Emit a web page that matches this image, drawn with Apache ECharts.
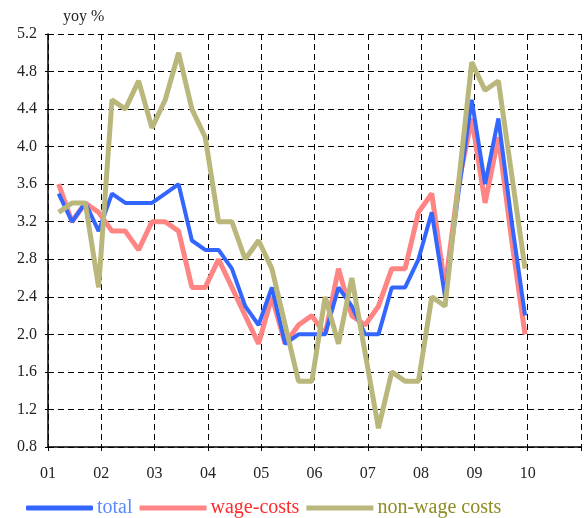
<!DOCTYPE html>
<html>
<head>
<meta charset="utf-8">
<script src="https://cdn.jsdelivr.net/npm/echarts@6/dist/echarts.min.js"></script>
<style>
html, body { margin: 0; padding: 0; background: #fff; }
#chart { width: 584px; height: 518px; }
</style>
</head>
<body>
<div id="chart"></div>
<script>
// quarters 2001Q1 .. 2009Q4
var quarters = [
	'01Q1', '01Q2', '01Q3', '01Q4', '02Q1', '02Q2', '02Q3', '02Q4',
	'03Q1', '03Q2', '03Q3', '03Q4', '04Q1', '04Q2', '04Q3', '04Q4',
	'05Q1', '05Q2', '05Q3', '05Q4', '06Q1', '06Q2', '06Q3', '06Q4',
	'07Q1', '07Q2', '07Q3', '07Q4', '08Q1', '08Q2', '08Q3', '08Q4',
	'09Q1', '09Q2', '09Q3', '09Q4'
];
var total = [
	3.5, 3.2, 3.4, 3.1, 3.5, 3.4, 3.4, 3.4, 3.5, 3.6, 3.0, 2.9,
	2.9, 2.7, 2.3, 2.1, 2.5, 1.9, 2.0, 2.0, 2.0, 2.5, 2.3, 2.0,
	2.0, 2.5, 2.5, 2.8, 3.3, 2.4, 3.5, 4.5, 3.6, 4.3, 3.2, 2.2
];
var wageCosts = [
	3.6, 3.2, 3.4, 3.3, 3.1, 3.1, 2.9, 3.2, 3.2, 3.1, 2.5, 2.5,
	2.8, 2.5, 2.2, 1.9, 2.4, 1.9, 2.1, 2.2, 2.0, 2.7, 2.2, 2.1,
	2.3, 2.7, 2.7, 3.3, 3.5, 2.5, 3.6, 4.3, 3.4, 4.1, 3.0, 2.0
];
var nonWageCosts = [
	3.3, 3.4, 3.4, 2.5, 4.5, 4.4, 4.7, 4.2, 4.5, 5.0, 4.4, 4.1,
	3.2, 3.2, 2.8, 3.0, 2.7, 2.1, 1.5, 1.5, 2.4, 1.9, 2.6, 1.8,
	1.0, 1.6, 1.5, 1.5, 2.4, 2.3, 3.6, 4.9, 4.6, 4.7, 3.7, 2.7
];
var seriesNames = ['total', 'wage-costs', 'non-wage costs'];
var lineColors = ['#3366ff', '#ff8585', '#bab77c'];
var textColors = ['#5b8aff', '#ff2a2a', '#8f8c22'];

//季度转为坐标位置
function toPoints(values) {
	var pts = [];
	for (var i = 0; i < quarters.length; i++) {
		var yr = 2000 + parseInt(quarters[i].substr(0, 2), 10);
		var q = parseInt(quarters[i].substr(3, 1), 10);
		pts.push([yr + (q - 0.2) / 4, values[i]]);
	}
	return pts;
}

var fontFam = '"Liberation Serif", "DejaVu Serif", serif';
var dashed = { show: true, lineStyle: { color: '#000', type: [6, 4], width: 1 } };

var option = {
	animation: false,
	backgroundColor: '#fff',
	textStyle: { fontFamily: fontFam },
	title: {
		text: 'yoy %',
		left: 58,
		top: 4,
		textStyle: { fontFamily: fontFam, fontSize: 16, fontWeight: 'normal', color: '#222' }
	},
	grid: { left: 48, top: 34, right: 3, bottom: 71 },
	legend: {
		left: 21,
		top: 493,
		itemWidth: 67,
		itemHeight: 5,
		itemGap: 7,
		data: seriesNames.map(function(n, k) {
			return {
				name: n,
				icon: k == 0 ? 'roundRect' : 'rect',
				itemStyle: { color: lineColors[k] },
				textStyle: { color: textColors[k] }
			};
		}),
		textStyle: { fontFamily: fontFam, fontSize: 20, padding: [0, 0, 0, -1] }
	},
	xAxis: {
		type: 'value',
		min: 2001,
		max: 2011,
		interval: 1,
		axisLine: { show: true, onZero: false, lineStyle: { color: '#000', width: 1.5 } },
		axisTick: { show: true, length: 4, lineStyle: { color: '#000' } },
		axisLabel: {
			margin: 19,
			fontSize: 16,
			color: '#222',
			fontFamily: fontFam,
			formatter: function(v) {
				if (v >= 2011) return '';
				return String(v).substr(2, 2);
			}
		},
		splitLine: dashed
	},
	yAxis: {
		type: 'value',
		min: 0.8,
		max: 5.2,
		interval: 0.4,
		axisLine: { show: true, lineStyle: { color: '#000', width: 1.5 } },
		axisTick: { show: true, length: 3, lineStyle: { color: '#000' } },
		axisLabel: {
			margin: 11,
			fontSize: 16,
			color: '#222',
			fontFamily: fontFam,
			formatter: function(v) { return v.toFixed(1); }
		},
		splitLine: dashed
	},
	series: [
		{
			name: seriesNames[0],
			type: 'line',
			data: toPoints(total),
			symbol: 'none',
			z: 4,
			itemStyle: { color: lineColors[0] },
			lineStyle: { width: 4, color: lineColors[0] }
		},
		{
			name: seriesNames[1],
			type: 'line',
			data: toPoints(wageCosts),
			symbol: 'none',
			z: 3,
			itemStyle: { color: lineColors[1] },
			lineStyle: { width: 5, color: lineColors[1] }
		},
		{
			name: seriesNames[2],
			type: 'line',
			data: toPoints(nonWageCosts),
			symbol: 'none',
			z: 5,
			itemStyle: { color: lineColors[2] },
			lineStyle: { width: 5, color: lineColors[2] }
		}
	]
};

var chart = echarts.init(document.getElementById('chart'), null, { renderer: 'canvas' });
chart.setOption(option);
</script>
</body>
</html>
